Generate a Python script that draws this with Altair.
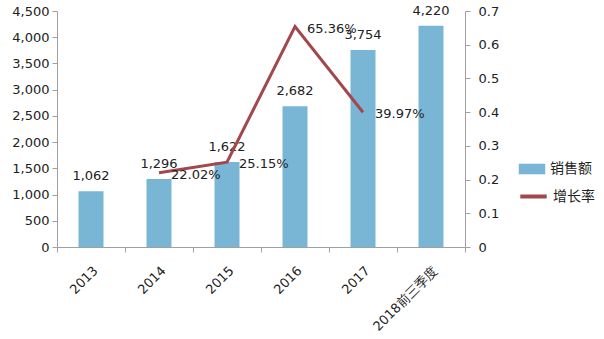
import altair as alt
import pandas as pd

categories = ["2013", "2014", "2015", "2016", "2017", "2018前三季度"]
sales = [1062, 1296, 1622, 2682, 3754, 4220]
growth_years = ["2014", "2015", "2016", "2017"]
growth = [0.2202, 0.2515, 0.6536, 0.3997]
growth_labels = ["22.02%", "25.15%", "65.36%", "39.97%"]

bar_df = pd.DataFrame({"year": categories, "sales": sales, "series": ["销售额"] * len(categories)})
line_df = pd.DataFrame({"year": growth_years, "growth": growth, "label": growth_labels,
                        "series": ["增长率"] * len(growth_years)})

FONT = "DejaVu Sans"
BAR = "#79B6D5"
LINE = "#A2474B"
AX = "#A0A0A0"

x_axis = alt.Axis(labelAngle=-45, tickBand="extent", domainColor=AX, tickColor=AX,
                  tickSize=5, labelFont=FONT, labelFontSize=13, labelColor="#222",
                  labelPadding=12)
x_scale = alt.Scale(domain=categories, paddingInner=0, paddingOuter=0)


def xenc():
    return alt.X("year:N", sort=categories, title=None, scale=x_scale, axis=x_axis)


left_axis = alt.Axis(values=list(range(0, 4501, 500)), format=",d", grid=False,
                     domainColor=AX, tickColor=AX, tickSize=5, labelPadding=3,
                     labelFont=FONT, labelFontSize=13, labelColor="#222")
left_scale = alt.Scale(domain=[0, 4500], nice=False)

right_axis = alt.Axis(orient="right", values=[0, 0.1, 0.2, 0.3, 0.4, 0.5, 0.6, 0.7],
                      format=".1~f", grid=False, domainColor=AX, tickColor=AX, tickSize=5,
                      labelPadding=8, labelFont=FONT, labelFontSize=13, labelColor="#222")
right_scale = alt.Scale(domain=[0, 0.7], nice=False)

bars = alt.Chart(bar_df).mark_bar(size=25).encode(
    x=xenc(),
    y=alt.Y("sales:Q", title=None, scale=left_scale, axis=left_axis),
    fill=alt.Fill("series:N", scale=alt.Scale(domain=["销售额"], range=[BAR]),
                  legend=alt.Legend(title=None, orient="none", legendX=461, legendY=144,
                                    symbolType="M-1,-0.4H1V0.4H-1Z", symbolSize=700,
                                    labelFont="Noto Sans CJK SC", labelFontSize=14,
                                    labelColor="#222", labelOffset=4)),
)

bar_text = alt.Chart(bar_df).mark_text(baseline="bottom", dy=-8, font=FONT, fontSize=13,
                                       color="#222").encode(
    x=xenc(),
    y=alt.Y("sales:Q", title=None, scale=left_scale, axis=left_axis),
    text=alt.Text("sales:Q", format=",d"),
)

left = alt.layer(bars, bar_text)

line = alt.Chart(line_df).mark_line(strokeWidth=3).encode(
    x=xenc(),
    y=alt.Y("growth:Q", title=None, scale=right_scale, axis=right_axis),
    stroke=alt.Stroke("series:N", scale=alt.Scale(domain=["增长率"], range=[LINE]),
                      legend=alt.Legend(title=None, orient="none", legendX=461, legendY=170,
                                        symbolType="stroke", symbolStrokeWidth=4, symbolSize=700,
                                        labelFont="Noto Sans CJK SC", labelFontSize=14,
                                        labelColor="#222", labelOffset=4)),
)

line_text = alt.Chart(line_df).mark_text(align="left", baseline="middle", dx=12, dy=2,
                                         font=FONT, fontSize=13, color="#222").encode(
    x=xenc(),
    y=alt.Y("growth:Q", title=None, scale=right_scale, axis=right_axis),
    text="label:N",
)

right = alt.layer(line, line_text)

chart = alt.layer(left, right).resolve_scale(y="independent").properties(
    width=408, height=236,
    autosize=alt.AutoSizeParams(type="none"),
    padding={"left": 57, "top": 11, "right": 139, "bottom": 92},
    background="white",
).configure_view(stroke=None)

chart.save("out.html", embed_options={"renderer": "svg", "actions": False})
